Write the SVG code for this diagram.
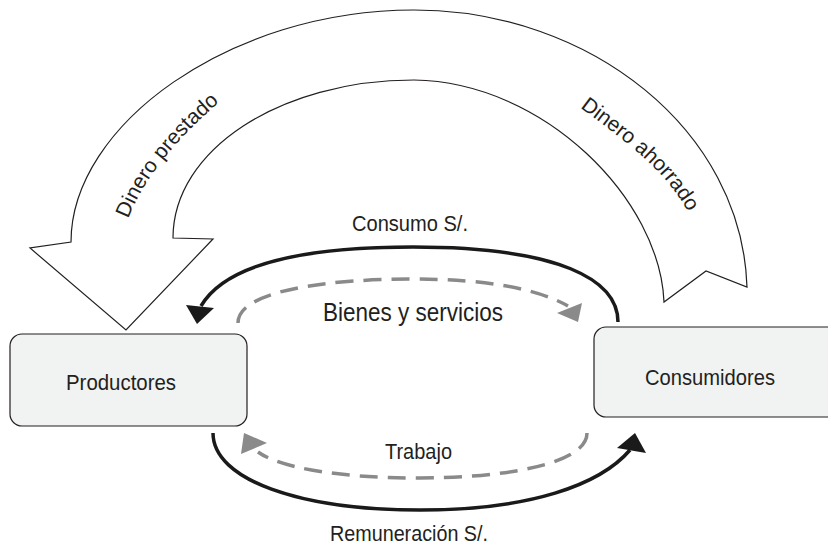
<svg xmlns="http://www.w3.org/2000/svg" width="828" height="550" viewBox="0 0 828 550">
  <style>
    .lbl { font-family: "Liberation Sans", Arial, sans-serif; fill: #231f20; }
    .box { fill: #f1f2f2; stroke: #231f20; stroke-width: 1.2; }
    .band { fill: #ffffff; stroke: #231f20; stroke-width: 1.2; stroke-linejoin: miter; }
    .solid { fill: none; stroke: #1a1a1a; stroke-width: 3.5; stroke-linecap: butt; }
    .dash { fill: none; stroke: #8a8a8a; stroke-width: 3.5; stroke-dasharray: 18 10; }
    .headSolid { fill: #1a1a1a; }
    .headDash { fill: #8a8a8a; }
  </style>
  <defs>
    <path id="pathPrestado" d="M127,222 C144,175 183.5,132 222,100"/>
    <path id="pathAhorrado" d="M582,109 C622,139 662,166.5 687,210"/>
  </defs>
  <rect width="828" height="550" fill="#ffffff"/>

  <!-- savings / loan loop: one wide curved arrow -->
  <g id="flujo-financiero">
    <path class="band" d="M71,242 C71,125 230,10 414,10 C590,10 742,130 747,287 L706,271 L664,302 C660,200 545,82 414,80 C280,80 173,150 173,238 L213,239 L126,330 L30,248 Z"/>
    <text class="lbl" font-size="21" text-anchor="middle"><textPath href="#pathPrestado" startOffset="50%">Dinero prestado</textPath></text>
    <text class="lbl" font-size="21" text-anchor="middle"><textPath href="#pathAhorrado" startOffset="50%">Dinero ahorrado</textPath></text>
  </g>

  <g id="productores">
    <rect class="box" x="10" y="334" width="237" height="92" rx="12"/>
    <text class="lbl" x="66" y="390" font-size="22" textLength="110" lengthAdjust="spacingAndGlyphs">Productores</text>
  </g>

  <g id="consumidores">
    <rect class="box" x="594" y="327" width="260" height="90" rx="12"/>
    <text class="lbl" x="645" y="385" font-size="21.5" textLength="130" lengthAdjust="spacingAndGlyphs">Consumidores</text>
  </g>

  <g id="connectors">
    <!-- spending: consumers to producers -->
    <path class="solid" d="M618,322 C618,280 560,247 413,247 C300,247 225,265 201,306"/>
    <polygon class="headSolid" points="186,305 214,308 197,324"/>
    <!-- goods and services: producers to consumers -->
    <path class="dash" d="M238,323 C238,290 330,279 413,279 C490,279 540,290 568,306"/>
    <polygon class="headDash" points="557,313 582,303 578,322"/>
    <!-- labour: consumers to producers -->
    <path class="dash" d="M587,433 C587,465 500,478 420,478 C340,478 280,468 258,452"/>
    <polygon class="headDash" points="244,433 267,443 241,454"/>
    <!-- wages: producers to consumers -->
    <path class="solid" d="M213,433 C213,480 300,510 420,510 C530,510 600,485 630,450"/>
    <polygon class="headSolid" points="635,433 617,448 646,453"/>
  </g>

  <text class="lbl" x="352" y="231" font-size="21.5" textLength="116" lengthAdjust="spacingAndGlyphs">Consumo S/.</text>
  <text class="lbl" x="323" y="321" font-size="25" textLength="180" lengthAdjust="spacingAndGlyphs">Bienes y servicios</text>
  <text class="lbl" x="385" y="459" font-size="21.5" textLength="67" lengthAdjust="spacingAndGlyphs">Trabajo</text>
  <text class="lbl" x="330" y="541" font-size="21.5" textLength="158" lengthAdjust="spacingAndGlyphs">Remuneración S/.</text>
</svg>
